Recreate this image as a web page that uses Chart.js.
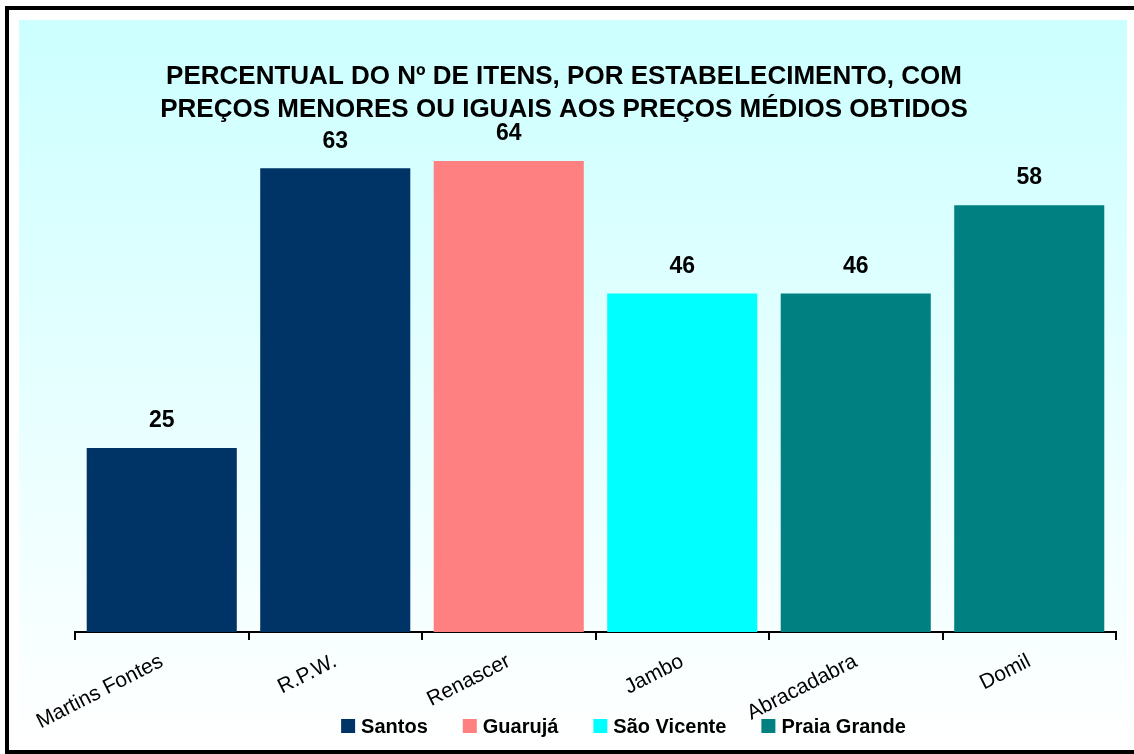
<!DOCTYPE html>
<html>
<head>
<meta charset="utf-8">
<title>Percentual do nº de itens por estabelecimento</title>
<script src="https://cdn.jsdelivr.net/npm/chart.js@4/dist/chart.umd.min.js"></script>
<style>
    body { margin: 0; background: #fff; }
    #wrap { width: 1134px; height: 754px; }
</style>
</head>
<body>
<div id="wrap"><canvas id="barEstabelecimentos" width="1134" height="754"></canvas></div>
<script>
// dados
var lojas = ['Martins Fontes', 'R.P.W.', 'Renascer', 'Jambo', 'Abracadabra', 'Domil'];
var cidades = ['Santos', 'Guarujá', 'São Vicente', 'Praia Grande'];
var santos = [25, 63, null, null, null, null];
var guaruja = [null, null, 64, null, null, null];
var saoVicente = [null, null, null, 46, null, null];
var praiaGrande = [null, null, null, null, 46, 58];
var tituloLinhas = ['PERCENTUAL DO Nº DE ITENS, POR ESTABELECIMENTO, COM',
                    'PREÇOS MENORES OU IGUAIS AOS PREÇOS MÉDIOS OBTIDOS'];

var cores = ['#003366', '#FF8080', '#00FFFF', '#008080'];
var fonte = '"Liberation Sans", Arial, sans-serif';

// fundo com degrade e moldura preta
var fundoPlugin = {
    id: 'fundo',
    beforeDraw: function (chart) {
        var ctx = chart.ctx;
        ctx.save();
        ctx.fillStyle = '#ffffff';
        ctx.fillRect(0, 0, chart.width, chart.height);
        var g = ctx.createLinearGradient(0, 20, 0, 745);
        g.addColorStop(0, '#CCFFFF');
        g.addColorStop(1, '#FFFFFF');
        ctx.fillStyle = g;
        ctx.fillRect(19, 20, 1108, 725);
        ctx.strokeStyle = '#000000';
        ctx.lineWidth = 4;
        ctx.strokeRect(7, 8, 1140, 744);
        ctx.restore();
    }
};

// valores acima das barras
var valoresPlugin = {
    id: 'valores',
    afterDatasetsDraw: function (chart) {
        var ctx = chart.ctx;
        ctx.save();
        ctx.font = 'bold 23px ' + fonte;
        ctx.fillStyle = '#000000';
        ctx.textAlign = 'center';
        ctx.textBaseline = 'middle';
        chart.data.datasets.forEach(function (ds, i) {
            var meta = chart.getDatasetMeta(i);
            meta.data.forEach(function (bar, j) {
                if (ds.data[j] == null) return;
                ctx.fillText(ds.data[j], bar.x, bar.y - 27);
            });
        });
        ctx.restore();
    }
};

// legenda desenhada na faixa dos rotulos, como no original
var legendaPlugin = {
    id: 'legendaBaixo',
    afterDraw: function (chart) {
        var ctx = chart.ctx;
        ctx.save();
        ctx.font = 'bold 20px ' + fonte;
        ctx.textBaseline = 'middle';
        var box = 14, gap = 6, esp = 35;
        var larguras = cidades.map(function (c) { return box + gap + ctx.measureText(c).width; });
        var total = larguras.reduce(function (a, b) { return a + b; }, 0) + esp * (cidades.length - 1);
        var x = 623.5 - total / 2;
        var y = 726;
        cidades.forEach(function (c, i) {
            ctx.fillStyle = cores[i];
            ctx.fillRect(x, y - box / 2, box, box);
            ctx.fillStyle = '#000000';
            ctx.fillText(c, x + box + gap, y + 1);
            x += larguras[i] + esp;
        });
        ctx.restore();
    }
};

var ctx = document.getElementById('barEstabelecimentos').getContext('2d');
window.MyChartBar = new Chart(ctx, {
    type: 'bar',
    data: {
        labels: lojas,
        datasets: [
            { label: cidades[0], data: santos, backgroundColor: cores[0] },
            { label: cidades[1], data: guaruja, backgroundColor: cores[1] },
            { label: cidades[2], data: saoVicente, backgroundColor: cores[2] },
            { label: cidades[3], data: praiaGrande, backgroundColor: cores[3] }
        ]
    },
    options: {
        responsive: false,
        animation: false,
        layout: { padding: { left: 12, right: 18, top: 30, bottom: 0 } },
        datasets: {
            bar: { categoryPercentage: 0.865, barPercentage: 1, borderWidth: 0 }
        },
        scales: {
            x: {
                stacked: true,
                offset: true,
                grid: {
                    offset: true,
                    drawOnChartArea: false,
                    drawTicks: true,
                    tickLength: 8,
                    color: '#000000',
                    lineWidth: 2
                },
                border: { display: true, color: '#000000', width: 2 },
                ticks: {
                    color: '#000000',
                    font: { family: fonte, size: 21 },
                    minRotation: 27,
                    maxRotation: 27,
                    padding: 9
                },
                afterFit: function (s) { s.height = 122; }
            },
            y: {
                stacked: true,
                min: 0,
                max: 68,
                grid: { display: false },
                border: { display: false },
                ticks: { display: false },
                afterFit: function (s) { s.width = 63; }
            }
        },
        plugins: {
            legend: { display: false },
            tooltip: { enabled: false },
            title: {
                display: true,
                text: tituloLinhas,
                color: '#000000',
                font: { family: fonte, size: 26, weight: 'bold', lineHeight: 1.27 },
                padding: { top: 30.5, bottom: 5 }
            }
        }
    },
    plugins: [fundoPlugin, valoresPlugin, legendaPlugin]
});
</script>
</body>
</html>
